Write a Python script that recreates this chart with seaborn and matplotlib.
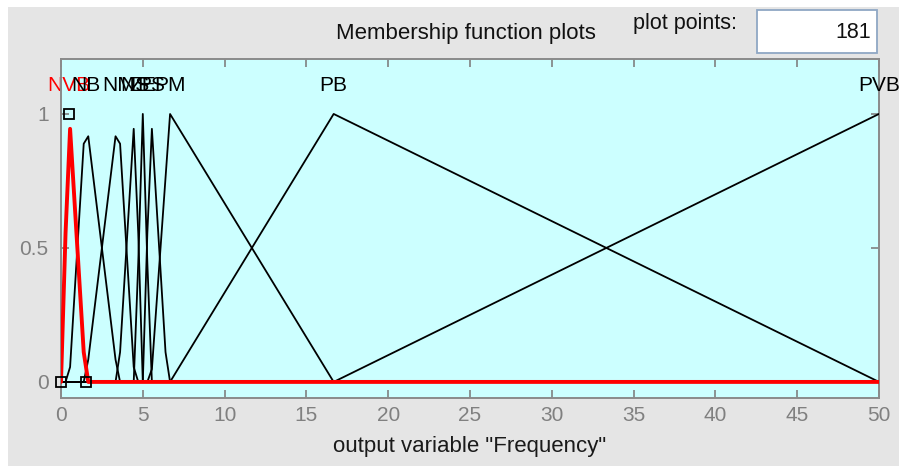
import numpy as np
import pandas as pd
import matplotlib
matplotlib.use("Agg")
import matplotlib.pyplot as plt
import seaborn as sns
from matplotlib.patches import Rectangle

# Output variable "Frequency": triangular membership functions [a, b, c]
mf_names = ["NVB", "NB", "NM", "NS", "ZE", "PS", "PM", "PB", "PVB"]
mf_a = [0.0, 0.5, 1.5, 3.5, 4.5, 5.0, 5.5, 6.667, 16.667]
mf_b = [0.5, 1.5, 3.5, 4.5, 5.0, 5.5, 6.667, 16.667, 50.0]
mf_c = [1.5, 3.5, 4.5, 5.0, 5.5, 6.5, 16.667, 50.0, 83.333]
selected_mf = "NVB"

x_range = [0, 50]
plot_points = 181
x_ticks = list(range(0, 51, 5))
y_ticks = [0, 0.5, 1]
y_tick_labels = ["0", "0.5", "1"]
x_label = 'output variable "Frequency"'


def trimf(x, a, b, c):
    left = (x - a) / (b - a) if b > a else np.where(x >= b, 1.0, 0.0)
    right = (c - x) / (c - b) if c > b else np.where(x <= b, 1.0, 0.0)
    return np.clip(np.minimum(left, right), 0.0, 1.0)


xs = np.linspace(x_range[0], x_range[1], plot_points)
frames = []
for name, a, b, c in zip(mf_names, mf_a, mf_b, mf_c):
    frames.append(pd.DataFrame({"x": xs, "mu": trimf(xs, a, b, c), "mf": name}))
df = pd.concat(frames, ignore_index=True)

sns.set_style("ticks")
plt.rcParams["font.family"] = ["Liberation Sans", "DejaVu Sans"]

W, H = 899, 466
fig = plt.figure(figsize=(W / 100, H / 100), dpi=100, facecolor="white")

# grey panel behind everything
fig.patches.append(Rectangle((8 / W, 0), 1 - 8 / W, 1 - 7 / H, transform=fig.transFigure,
                             facecolor="#e5e5e5", edgecolor="none", zorder=-10))

ax = fig.add_axes([61 / W, (H - 398) / H, (879 - 61) / W, (398 - 59) / H])
ax.set_facecolor("#ccffff")

others = df[df["mf"] != selected_mf]
sel = df[df["mf"] == selected_mf]
sns.lineplot(data=others, x="x", y="mu", units="mf", estimator=None, color="black",
             lw=1.3, ax=ax, zorder=3, legend=False)
sns.lineplot(data=sel, x="x", y="mu", color="red", lw=2.8, ax=ax, zorder=4, legend=False)

# handles on the selected function's vertices
i_sel = mf_names.index(selected_mf)
ax.plot([mf_a[i_sel], mf_b[i_sel], mf_c[i_sel]], [0, 1, 0], "s", mfc="none", mec="black",
        mew=1.3, ms=7.5, zorder=5, clip_on=False)

# function names above their peaks
for name, b in zip(mf_names, mf_b):
    is_sel = name == selected_mf
    ax.text(b, 1.105, name, ha="center", va="center", fontsize=15,
            color="red" if is_sel else "black", zorder=2 if is_sel else 3, clip_on=False)

ax.set_xlim(x_range)
ax.set_ylim(-0.06, 1.205)
ax.set_xticks(x_ticks)
ax.set_yticks(y_ticks)
ax.set_yticklabels(y_tick_labels)
ax.set_xlabel(x_label, fontsize=16, color="#1a1a1a", labelpad=8)
ax.set_ylabel("")
ax.tick_params(axis="both", direction="in", length=6, width=1.2, color="#808080",
               labelcolor="#808080", labelsize=15, top=True, right=True)
ax.tick_params(axis="x", pad=6)
ax.tick_params(axis="y", pad=9)
for s in ax.spines.values():
    s.set_color("#8a8a8a")
    s.set_linewidth(1.4)

# header texts and the plot-points field
fig.text(466 / W, 1 - 33 / H, "Membership function plots", ha="center", va="center",
         fontsize=16, color="#111111")
fig.text(685 / W, 1 - 24 / H, "plot points:", ha="center", va="center",
         fontsize=15.5, color="#111111")
fig.patches.append(Rectangle((757 / W, 1 - 53 / H), 120 / W, 43 / H, transform=fig.transFigure,
                             facecolor="white", edgecolor="#8fa7c4", lw=1.3, zorder=1))
fig.text(871 / W, 1 - 33 / H, str(plot_points), ha="right", va="center",
         fontsize=15.5, color="#111111")

fig.savefig("out.png", dpi=100, facecolor=fig.get_facecolor())
